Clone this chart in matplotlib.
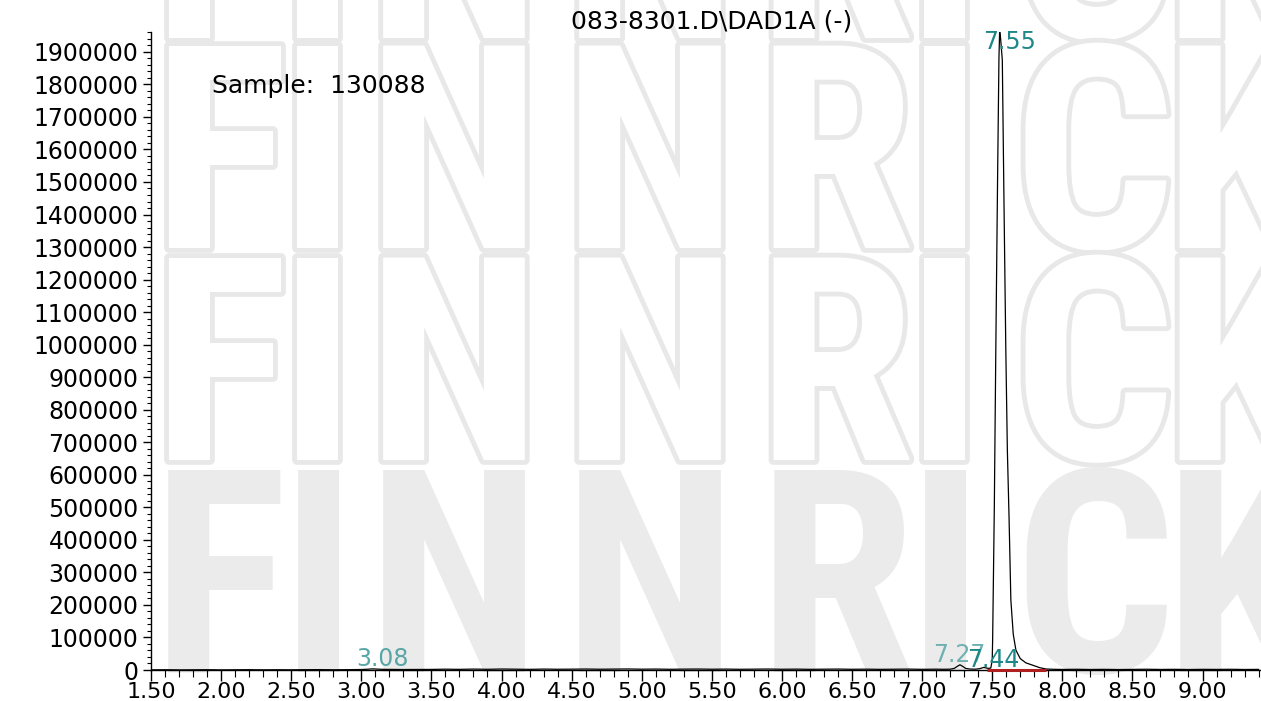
import matplotlib
matplotlib.use("Agg")
import matplotlib.pyplot as plt
from matplotlib import font_manager, patheffects
from matplotlib.ticker import MultipleLocator, FormatStrFormatter

# ---------------- data ----------------
title = "083-8301.D\\DAD1A (-)"
sample_text = "Sample:  130088"

base1_t = [1.5, 1.6, 1.7, 1.8, 1.9, 2.0, 2.1, 2.2, 2.3, 2.4,
           2.5, 2.6, 2.7, 2.8, 2.9, 3.0, 3.05, 3.08, 3.15, 3.3,
           3.5, 3.6, 3.7, 3.8, 3.9, 4.0, 4.1, 4.2, 4.3, 4.4,
           4.5, 4.6, 4.7, 4.8, 4.9, 5.0, 5.1, 5.2, 5.3, 5.4,
           5.5, 5.6, 5.7, 5.8, 5.9, 6.0, 6.1, 6.2, 6.3, 6.4,
           6.5, 6.6, 6.7, 6.8, 6.9, 7.0, 7.1]
base1_v = [500, 800, 300, 600, 900, 400, 700, 1000, 500, 800,
           600, 900, 1200, 700, 1000, 1500, 2500, 3500, 2000, 1500,
           1800, 2500, 2000, 2800, 2200, 3000, 2500, 2000, 2800, 2300,
           2600, 3000, 2400, 2800, 3200, 2500, 2900, 2200, 2700, 3000,
           2400, 2800, 2200, 2600, 3000, 2300, 2700, 2100, 2500, 2900,
           2200, 2600, 2000, 2400, 2800, 2100, 2500]

peak_t = [7.15, 7.20, 7.23, 7.25, 7.27, 7.29, 7.31, 7.34, 7.38, 7.41,
          7.44, 7.47, 7.49, 7.50, 7.503, 7.515, 7.526, 7.538, 7.548, 7.553,
          7.560, 7.572, 7.585, 7.597, 7.608, 7.620, 7.633, 7.650, 7.669, 7.70,
          7.74, 7.787, 7.84, 7.885, 7.95]
peak_v = [2200, 2500, 5000, 11000, 16000, 11000, 5000, 3000, 2500, 4000,
          8000, 5000, 6000, 30000, 92000, 500000, 1000000, 1500000, 1880000, 1965000,
          1940000, 1875000, 1400000, 984000, 676000, 470000, 215000, 110000, 61000, 35000,
          22000, 15000, 7000, 3000, 2000]

base2_t = [8.0, 8.1, 8.2, 8.3, 8.4, 8.5, 8.6, 8.7, 8.8, 8.9, 9.0, 9.1, 9.2, 9.3, 9.4]
base2_v = [1800, 2200, 1600, 2000, 1400, 1900, 2300, 1700, 2100, 1500, 2000, 1800, 2200, 1600, 1900]

peak_labels = ["3.08", "7.27", "7.44", "7.55"]
peak_times = [3.08, 7.27, 7.44, 7.55]

integ_t = [7.46, 7.885]
integ_v = [0, 0]

x_limits = (1.5, 9.41)
y_limits = (0, 1961000)

wm_word = "FINNRICK"

# ---------------- figure ----------------
W, H = 1261, 701
fig = plt.figure(figsize=(W / 100, H / 100), dpi=100)
fig.patch.set_facecolor("white")

names = {f.name for f in font_manager.fontManager.ttflist}
wm_family = "DejaVu Sans"
for cand in ["Roboto Condensed", "Liberation Sans Narrow", "DejaVu Sans Condensed", "Open Sans Condensed"]:
    if cand in names:
        wm_family = cand
        break

wm_centers_px = [220, 318, 454, 650, 836, 945, 1094, 1242]
row_baselines_px = [38, 248, 460, 672]
wm_size = 205
for r, yb in enumerate(row_baselines_px):
    for ch, cx in zip(wm_word, wm_centers_px):
        if r < 3:
            fig.text(cx / W, 1 - yb / H, ch, ha="center", va="baseline",
                     fontsize=wm_size, fontweight="bold", family=wm_family,
                     fontstretch="condensed", color="white", zorder=-5,
                     path_effects=[patheffects.Stroke(linewidth=7, foreground="#e8e8e8"),
                                   patheffects.Normal()])
        else:
            fig.text(cx / W, 1 - yb / H, ch, ha="center", va="baseline",
                     fontsize=wm_size, fontweight="bold", family=wm_family,
                     fontstretch="condensed", color="#ebebeb", zorder=-5)

ax = fig.add_axes([151 / W, 1 - 670 / H, (1260 - 151) / W, (670 - 32) / H])
ax.patch.set_alpha(0)

t = base1_t + peak_t + base2_t
v = base1_v + peak_v + base2_v
ax.plot(t, v, color="black", lw=0.9, zorder=3)
ax.plot(integ_t, [iv + 1500 for iv in integ_v], color="#b02020", lw=2.2,
        zorder=6, clip_on=False, solid_capstyle="butt")

ax.set_xlim(*x_limits)
ax.set_ylim(*y_limits)

for s in ["top", "right"]:
    ax.spines[s].set_visible(False)
for s in ["left", "bottom"]:
    ax.spines[s].set_linewidth(1.0)
    ax.spines[s].set_color("black")

ax.xaxis.set_major_locator(MultipleLocator(0.5))
ax.xaxis.set_minor_locator(MultipleLocator(0.1))
ax.yaxis.set_major_locator(MultipleLocator(100000))
ax.yaxis.set_minor_locator(MultipleLocator(20000))
ax.xaxis.set_major_formatter(FormatStrFormatter("%.2f"))
ax.yaxis.set_major_formatter(FormatStrFormatter("%d"))

ax.tick_params(axis="x", which="major", length=8, width=1, pad=1, labelsize=16)
ax.tick_params(axis="x", which="minor", length=5, width=0.8)
ax.tick_params(axis="y", which="major", length=6, width=1, pad=3, labelsize=17)
ax.tick_params(axis="y", which="minor", length=3, width=0.8)
for lab in ax.get_xticklabels() + ax.get_yticklabels():
    lab.set_family("DejaVu Sans")

# label placement (style): offset in minutes from the peak time, and y level
label_dx = [0.074, -0.004, 0.069, 0.073]
label_y = [33800, 46100, 30700, 1930000]
label_colors = ["#5aa6a6", "#6fb0b0", "#1f8787", "#1f8787"]
for lab, tt, dx, yy, col in zip(peak_labels, peak_times, label_dx, label_y, label_colors):
    ax.text(tt + dx, yy, lab, ha="center", va="center", fontsize=17, color=col,
            family="DejaVu Sans", zorder=5, clip_on=False)

fig.text(712 / W, 1 - 22 / H, title, ha="center", va="center",
         fontsize=18, family="DejaVu Sans", color="black")
fig.text(212 / W, 1 - 86 / H, sample_text, ha="left", va="center",
         fontsize=18, family="DejaVu Sans", color="black")

fig.savefig("out.png", dpi=100, facecolor="white")
